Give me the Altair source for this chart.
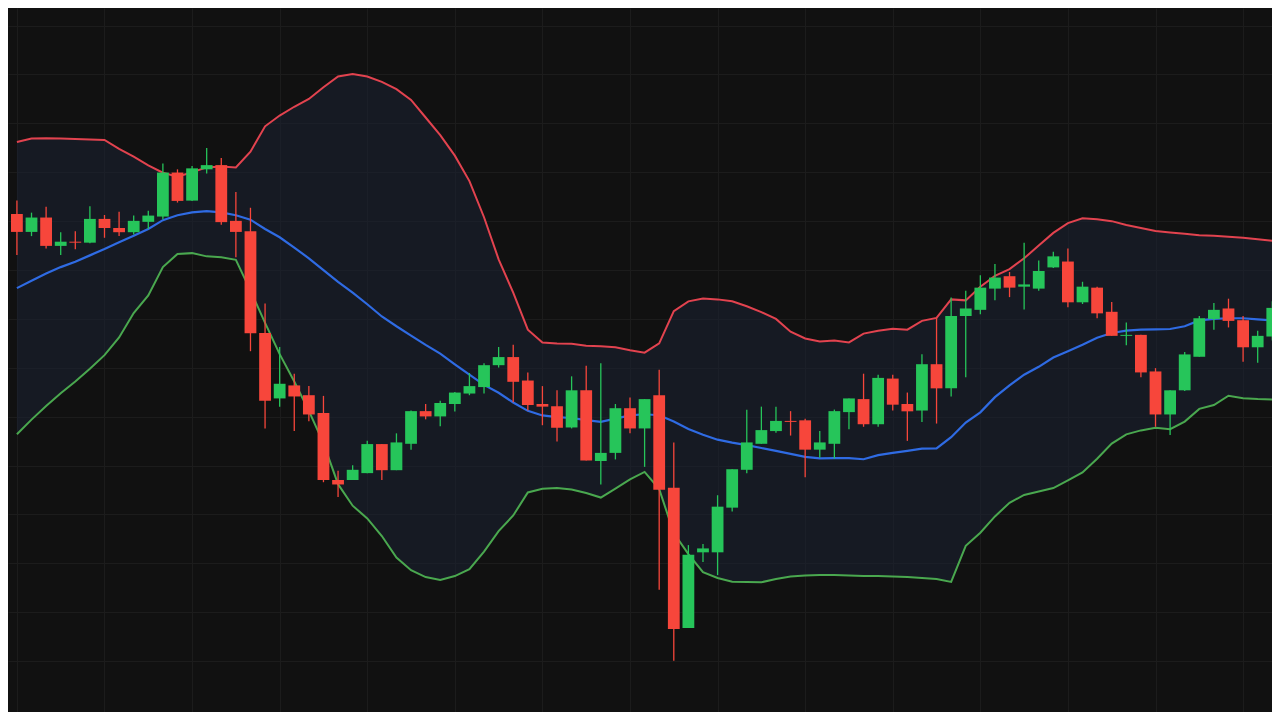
import altair as alt
import pandas as pd

# candle index (one per session)
idx = list(range(87))

open_ = [50.73, 48.90, 50.37, 47.47, 47.90, 47.80, 50.23, 49.30, 48.87, 49.93,
         50.47, 54.97, 52.10, 55.30, 55.73, 50.03, 48.97, 38.57, 31.87, 33.20,
         32.20, 30.37, 23.53, 23.53, 24.23, 27.20, 24.53, 27.23, 30.57, 30.03,
         31.30, 32.37, 33.03, 35.27, 36.10, 33.70, 31.30, 31.07, 28.90, 32.70,
         25.47, 26.30, 30.87, 28.80, 32.20, 22.73, 8.40, 16.13, 16.13, 20.70,
         24.57, 27.23, 28.53, 29.57, 29.63, 26.63, 27.23, 30.47, 31.80, 29.23,
         33.90, 31.30, 30.63, 35.37, 32.90, 40.30, 40.93, 43.10, 44.37, 43.30,
         43.10, 45.27, 45.87, 41.70, 43.20, 40.73, 38.27, 38.37, 34.63, 30.23,
         32.70, 36.13, 40.00, 41.07, 39.87, 37.10, 38.20]

close = [48.90, 50.37, 47.47, 47.90, 47.80, 50.23, 49.30, 48.87, 50.03, 50.57,
         54.97, 52.07, 55.40, 55.73, 49.90, 48.90, 38.53, 31.63, 33.37, 32.07,
         30.23, 23.53, 23.07, 24.57, 27.20, 24.53, 27.37, 30.57, 30.03, 31.40,
         32.47, 33.13, 35.27, 36.10, 33.57, 31.20, 31.03, 28.87, 32.70, 25.53,
         26.30, 30.87, 28.80, 31.80, 22.53, 8.30, 15.87, 16.53, 20.80, 24.63,
         27.37, 28.63, 29.57, 29.47, 26.63, 27.37, 30.57, 31.87, 29.23, 33.97,
         31.23, 30.55, 35.37, 32.90, 40.30, 41.07, 43.20, 44.23, 43.20, 43.53,
         44.90, 46.40, 41.70, 43.30, 40.57, 38.27, 38.37, 34.53, 30.23, 32.70,
         36.37, 40.07, 40.93, 39.80, 37.10, 38.27, 41.13]

high = [52.10, 50.87, 51.47, 48.87, 48.97, 51.53, 50.63, 50.97, 50.57, 51.07,
        55.90, 55.30, 55.63, 57.47, 56.47, 52.97, 51.37, 41.57, 37.13, 34.40,
        33.13, 32.13, 24.47, 25.03, 27.53, 27.20, 28.30, 30.63, 31.30, 31.63,
        32.53, 34.47, 35.47, 37.13, 37.37, 34.53, 33.13, 32.70, 34.13, 35.20,
        35.47, 31.30, 31.97, 31.80, 34.80, 27.37, 16.87, 16.97, 21.97, 24.63,
        30.70, 31.03, 31.03, 30.57, 29.80, 28.53, 30.73, 31.87, 34.40, 34.30,
        34.30, 32.47, 36.40, 40.07, 42.20, 42.87, 44.47, 45.63, 44.80, 47.80,
        45.97, 46.87, 47.20, 43.80, 43.30, 41.73, 39.63, 38.37, 34.97, 32.70,
        36.63, 40.30, 41.63, 42.07, 40.30, 38.80, 41.80]

low = [46.53, 48.47, 47.20, 46.53, 47.13, 47.73, 48.30, 48.47, 48.63, 49.20,
       50.20, 51.90, 52.07, 54.87, 49.63, 46.30, 36.70, 28.80, 31.03, 28.53,
       29.53, 23.30, 21.80, 23.53, 24.23, 23.53, 24.53, 26.63, 29.73, 29.03,
       30.53, 32.20, 32.37, 35.03, 31.47, 30.63, 29.13, 27.47, 28.80, 25.53,
       23.07, 25.63, 28.30, 24.87, 12.30, 5.03, 8.40, 15.13, 13.80, 20.30,
       24.23, 27.23, 28.37, 28.07, 23.80, 25.80, 25.73, 28.73, 28.97, 28.97,
       30.63, 27.53, 29.47, 29.30, 32.07, 34.03, 40.47, 41.90, 42.23, 40.97,
       42.87, 45.20, 41.20, 41.53, 40.07, 38.27, 37.30, 34.03, 28.97, 28.13,
       32.63, 36.13, 38.90, 39.13, 35.63, 35.53, 37.80]

upper = [58.10, 58.45, 58.47, 58.45, 58.40, 58.35, 58.30, 57.40, 56.60, 55.70,
         54.95, 54.55, 55.00, 55.50, 55.60, 55.50, 57.10, 59.70, 60.80, 61.70,
         62.50, 63.70, 64.80, 65.05, 64.80, 64.25, 63.50, 62.40, 60.60, 58.80,
         56.70, 54.10, 50.40, 46.10, 42.70, 38.90, 37.60, 37.50, 37.45, 37.25,
         37.20, 37.10, 36.80, 36.55, 37.50, 40.80, 41.80, 42.10, 42.00, 41.80,
         41.30, 40.70, 40.00, 38.70, 38.00, 37.70, 37.80, 37.60, 38.50, 38.80,
         39.00, 38.90, 39.80, 40.10, 42.00, 41.90, 43.30, 44.40, 45.10, 46.20,
         47.50, 48.80, 49.80, 50.30, 50.20, 50.00, 49.60, 49.30, 49.00, 48.85,
         48.70, 48.55, 48.50, 48.40, 48.30, 48.15, 48.00]

middle = [43.15, 43.90, 44.65, 45.30, 45.85, 46.50, 47.15, 47.85, 48.50, 49.20,
          50.10, 50.60, 50.90, 51.03, 50.90, 50.60, 50.15, 49.20, 48.35, 47.30,
          46.20, 45.00, 43.80, 42.70, 41.50, 40.25, 39.25, 38.30, 37.35, 36.45,
          35.35, 34.30, 33.25, 32.45, 31.45, 30.60, 30.13, 29.95, 29.87, 29.65,
          29.47, 29.80, 30.13, 30.25, 30.15, 29.50, 28.75, 28.15, 27.65, 27.35,
          27.10, 26.80, 26.50, 26.20, 25.90, 25.73, 25.77, 25.77, 25.65, 26.07,
          26.30, 26.50, 26.73, 26.75, 27.90, 29.40, 30.45, 32.00, 33.20, 34.30,
          35.10, 36.05, 36.70, 37.35, 38.08, 38.56, 38.80, 38.90, 38.93, 38.97,
          39.25, 39.85, 40.00, 40.07, 40.07, 39.95, 39.85]

lower = [28.20, 29.70, 31.10, 32.40, 33.60, 34.90, 36.30, 38.10, 40.60, 42.40,
         45.30, 46.65, 46.73, 46.40, 46.30, 46.05, 42.90, 39.60, 36.40, 33.60,
         30.60, 27.30, 23.10, 20.90, 19.60, 17.80, 15.60, 14.30, 13.60, 13.30,
         13.70, 14.40, 16.20, 18.30, 19.90, 22.25, 22.63, 22.70, 22.55, 22.20,
         21.73, 22.65, 23.60, 24.35, 22.60, 18.10, 15.95, 14.10, 13.50, 13.13,
         13.10, 13.07, 13.40, 13.65, 13.75, 13.80, 13.80, 13.75, 13.70, 13.70,
         13.65, 13.60, 13.50, 13.40, 13.10, 16.80, 18.13, 19.80, 21.20, 22.00,
         22.35, 22.70, 23.50, 24.30, 25.70, 27.25, 28.20, 28.60, 28.87, 28.73,
         29.50, 30.80, 31.20, 32.15, 31.90, 31.80, 31.75]

x_grid = list(range(0, 87, 6))
y_grid = list(range(5, 71, 5))

df = pd.DataFrame({
    "i": idx, "open": open_, "high": high, "low": low, "close": close,
    "upper": upper, "mid": middle, "lower": lower,
})
df["dir"] = ["up" if c >= o else "down" for o, c in zip(open_, close)]

GREEN = "#26c55a"
RED = "#f7463b"

xs = alt.Scale(domain=[-0.268, 85.638], nice=False, zero=False)
ys = alt.Scale(domain=[-0.2, 71.8], nice=False, zero=False)
xa = alt.Axis(values=x_grid, grid=True, labels=False, ticks=False, domain=False)
ya = alt.Axis(values=y_grid, grid=True, labels=False, ticks=False, domain=False)


def X():
    return alt.X("i:Q", scale=xs, axis=xa, title=None)


def Y(field):
    return alt.Y(f"{field}:Q", scale=ys, axis=ya, title=None)


color = alt.Color("dir:N", scale=alt.Scale(domain=["up", "down"], range=[GREEN, RED]), legend=None)

base = alt.Chart(df)

band = base.mark_area(color="#1a2230", opacity=0.6, clip=True).encode(
    x=X(), y=Y("upper"), y2="lower:Q")
up_line = base.mark_line(color="#e2434f", strokeWidth=2, clip=True).encode(x=X(), y=Y("upper"))
low_line = base.mark_line(color="#4aa84f", strokeWidth=2, clip=True).encode(x=X(), y=Y("lower"))
mid_line = base.mark_line(color="#2f6be3", strokeWidth=2.2, clip=True).encode(x=X(), y=Y("mid"))
wicks = base.mark_rule(strokeWidth=1.3, clip=True).encode(
    x=X(), y=Y("low"), y2="high:Q", color=color)
bodies = base.mark_bar(size=11.8, clip=True).encode(
    x=X(), y=Y("open"), y2="close:Q", color=color)

chart = alt.layer(band, low_line, up_line, mid_line, wicks, bodies).properties(
    width=1264, height=704,
    autosize=alt.AutoSizeParams(type="none"),
    padding=0,
    background="#111111",
).configure_view(stroke=None).configure_axis(
    gridColor="#1c1c1c", gridWidth=1, gridOpacity=1
)

chart.save("out.html", embed_options={"renderer": "svg", "actions": False})
